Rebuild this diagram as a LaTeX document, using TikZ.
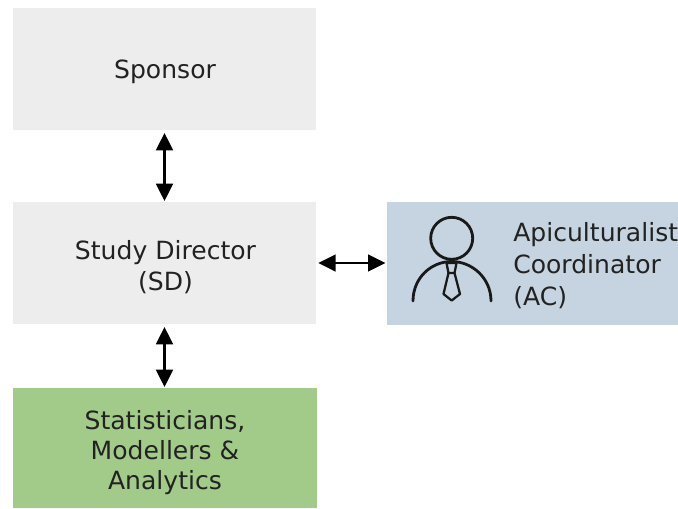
\documentclass[tikz,border=0pt]{standalone}
\usepackage{fontspec}
\setmainfont{DejaVu Sans}
\usetikzlibrary{arrows.meta}
\definecolor{boxgrey}{HTML}{EDEDED}
\definecolor{boxblue}{HTML}{C5D4E0}
\definecolor{boxgreen}{HTML}{A2CB8A}
\definecolor{ink}{HTML}{222222}
\tikzset{
  x=0.75pt,y=-0.75pt,
  blockbox/.style={draw=none,inner sep=0pt,minimum width=#1*0.75pt,align=center,text=ink},
  labeltext/.style={inner sep=0pt,align=center,text=ink,font=\fontsize{18.8pt}{#1pt}\selectfont},
  link/.style={line width=1.9pt,black,{Triangle[width=12.5pt,length=13pt]}-{Triangle[width=12.5pt,length=13pt]}},
  iconline/.style={line width=2.1pt,draw=black!90,line join=round,line cap=round}
}
\begin{document}
\begin{tikzpicture}
\useasboundingbox (0,0) rectangle (678,508);
\fill[white] (0,0) rectangle (678,508);
\node[blockbox=303,fill=boxgrey,minimum height=122*0.75pt] (sponsor) at (164.5,69) {};
\node[blockbox=303,fill=boxgrey,minimum height=122*0.75pt] (sd) at (164.5,263) {};
\node[blockbox=291,fill=boxblue,minimum height=123*0.75pt] (ac) at (532.5,263.5) {};
\node[blockbox=304,fill=boxgreen,minimum height=120*0.75pt] (stat) at (165,448) {};
\node[labeltext=22] (sponsortext) at (165,72) {Sponsor};
\node[labeltext=23] (sdtext) at (165.5,267) {Study Director\\(SD)};
\node[labeltext=22.2] (stattext) at (165,452.5) {Statisticians,\\Modellers \&\\Analytics};
\node[labeltext=24,anchor=west,align=left] (actext) at (513,266) {Apiculturalist\\Coordinator\\(AC)};
\draw[link,shorten <=2pt,shorten >=0.5pt] (sponsor.south) -- (sponsor.south |- sd.north);
\draw[link,shorten <=2pt,shorten >=0.5pt] (sd.south) -- (sd.south |- stat.north);
\draw[link,shorten <=1.5pt,shorten >=1pt] (sd.east) -- (sd.east -| ac.west);
\draw[iconline] (451.7,238.3) circle[radius=21];
\draw[iconline] (413,301) .. controls (413,278) and (431,261.5) .. (451.7,261.5) .. controls (472,261.5) and (491,278) .. (491,301);
\draw[iconline,line width=1.7pt] (446.5,263) -- (456.5,263) -- (454.5,273) -- (448.5,273) -- cycle;
\draw[iconline,line width=1.7pt] (448.5,273) -- (443.5,294) -- (451.7,300.5) -- (460,294) -- (454.5,273);
\end{tikzpicture}
\end{document}
